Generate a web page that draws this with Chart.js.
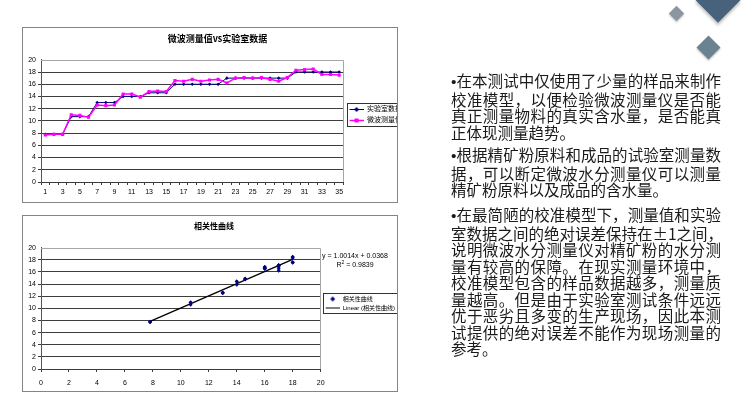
<!DOCTYPE html>
<html lang="zh-CN">
<head>
<meta charset="utf-8">
<script src="https://cdn.jsdelivr.net/npm/chart.js@4.4.1/dist/chart.umd.min.js"></script>
<style>
  html, body { margin: 0; padding: 0; background: #fff; }
  body { width: 750px; height: 400px; position: relative; overflow: hidden; }
  .box { position: absolute; left: 22px; width: 376px; box-sizing: border-box; border: 1px solid #858585; overflow: hidden; background: #fff; }
  .box canvas { position: absolute; left: 0; top: 0; }
  #box1 { top: 27px; height: 176px; }
  #box2 { top: 215px; height: 177px; }
  #eq { position: absolute; left: 318px; top: 252px; width: 74px; text-align: center; font: 7px "Liberation Sans", Arial, sans-serif; line-height: 7px; color: #000; }
  .txt { position: absolute; left: 451px; font-family: "Noto Sans CJK SC", sans-serif; font-size: 15.5px; line-height: 16.5px; color: #1a1a1a; will-change: transform; }
  .txt div { width: 270px; white-space: nowrap; }
  .txt div.j { text-align: justify; text-align-last: justify; }
  .txt .b { font-family: "Liberation Sans", Arial, sans-serif; }
  .dia { position: absolute; transform: rotate(45deg); }
</style>
</head>
<body>

<div class="dia" style="left:702px; top:-16px; width:32px; height:32px; background:#47627a; box-shadow:2px 2px 3px rgba(0,0,0,0.25);"></div>
<div class="dia" style="left:671px; top:8px; width:11px; height:11px; background:#8c96a1; box-shadow:1px 1px 2px rgba(0,0,0,0.2);"></div>
<div class="dia" style="left:700px; top:39px; width:17px; height:17px; background:#6b8293; box-shadow:1px 1px 2px rgba(0,0,0,0.25);"></div>

<div class="box" id="box1"><canvas id="lineChart" width="389" height="174"></canvas></div>
<div class="box" id="box2"><canvas id="scatterChart" width="382" height="175"></canvas></div>
<div id="eq">y = 1.0014x + 0.0368<br>R<sup style="font-size:5px">2</sup> = 0.9839</div>

<div class="txt" style="top:72px;">
  <div class="j"><span class="b">•</span>在本测试中仅使用了少量的样品来制作</div>
  <div class="j">校准模型，以便检验微波测量仪是否能</div>
  <div class="j">真正测量物料的真实含水量，是否能真</div>
  <div>正体现测量趋势。</div>
</div>
<div class="txt" style="top:146px;">
  <div class="j"><span class="b">•</span>根据精矿粉原料和成品的试验室测量数</div>
  <div class="j">据，可以断定微波水分测量仪可以测量</div>
  <div>精矿粉原料以及成品的含水量。</div>
</div>
<div class="txt" style="top:206px;">
  <div class="j"><span class="b">•</span>在最简陋的校准模型下，测量值和实验</div>
  <div class="j">室数据之间的绝对误差保持在±1之间，</div>
  <div class="j">说明微波水分测量仪对精矿粉的水分测</div>
  <div class="j">量有较高的保障。在现实测量环境中，</div>
  <div class="j">校准模型包含的样品数据越多，测量质</div>
  <div class="j">量越高。但是由于实验室测试条件远远</div>
  <div class="j">优于恶劣且多变的生产现场，因此本测</div>
  <div class="j">试提供的绝对误差不能作为现场测量的</div>
  <div>参考。</div>
</div>

<script>
// sample numbers 1..35
var samples = [];
for (var n = 1; n <= 35; n++) samples.push(String(n));

// 实验室数据
var labData = [7.8, 7.8, 7.8, 10.7, 10.7, 10.7, 13, 13, 13, 14, 14, 14, 14.6, 14.6, 14.6,
  16, 16, 16, 16, 16, 16, 17, 17, 17, 17, 17, 17, 17, 17, 18, 18, 18, 18, 18, 18];
// 微波测量值
var microData = [7.7, 7.8, 7.8, 11, 10.9, 10.6, 12.6, 12.5, 12.6, 14.4, 14.4, 13.9, 14.8, 14.9, 14.8,
  16.6, 16.5, 16.8, 16.5, 16.7, 16.8, 16.2, 17, 17.1, 17, 17.1, 16.8, 16.5, 17.1, 18.3, 18.4, 18.5, 17.6, 17.6, 17.5];

var seriesNames = ['实验室数据', '微波测量值'];
var scatterNames = ['相关性曲线', 'Linear (相关性曲线)'];
var fitSlope = 1.0014, fitIntercept = 0.0368;

var tickFont = { family: '"Liberation Sans", Arial, "Noto Sans CJK SC"', size: 7 };

function makeIcon(color, marker, lineW) {
  var c = document.createElement('canvas');
  c.width = 16; c.height = 7;
  var g = c.getContext('2d');
  g.strokeStyle = color; g.fillStyle = color;
  if (lineW) {
    g.lineWidth = lineW;
    g.beginPath(); g.moveTo(2, 3.5); g.lineTo(16, 3.5); g.stroke();
  }
  if (marker == 'rect') g.fillRect(7, 1.5, 4, 4);
  if (marker == 'diamond') {
    g.beginPath(); g.moveTo(9, 1); g.lineTo(11.5, 3.5); g.lineTo(9, 6); g.lineTo(6.5, 3.5); g.closePath(); g.fill();
  }
  return c;
}

// border round legend items
var legendBorder = {
  id: 'legendBorder',
  afterDraw: function(chart) {
    var hb = chart.legend && chart.legend.legendHitBoxes;
    if (!hb || !hb.length) return;
    var l = Math.min.apply(null, hb.map(function(b){ return b.left; }));
    var t = Math.min.apply(null, hb.map(function(b){ return b.top; }));
    var r = Math.max.apply(null, hb.map(function(b){ return b.left + b.width; }));
    var b = Math.max.apply(null, hb.map(function(b){ return b.top + b.height; }));
    var ctx = chart.ctx;
    ctx.save();
    ctx.strokeStyle = '#333'; ctx.lineWidth = 1;
    ctx.strokeRect(Math.round(l) - 0.5, Math.round(t - 3) + 0.5, Math.round(r - l + 30), Math.round(b - t + 5));
    ctx.restore();
  }
};

// grey frame of the plot area
var plotFrame = {
  id: 'plotFrame',
  beforeDatasetsDraw: function(chart) {
    var a = chart.chartArea, ctx = chart.ctx;
    ctx.save();
    ctx.strokeStyle = '#a6a6a6'; ctx.lineWidth = 1;
    ctx.beginPath();
    ctx.moveTo(a.left, Math.round(a.top) + 0.5);
    ctx.lineTo(Math.round(a.right) - 0.5, Math.round(a.top) + 0.5);
    ctx.lineTo(Math.round(a.right) - 0.5, a.bottom);
    ctx.stroke();
    ctx.restore();
  }
};

function yScale() {
  return {
    min: 0, max: 20,
    afterFit: function(s) { s.width = 18; },
    ticks: { stepSize: 2, autoSkip: false, font: tickFont, color: '#000', padding: 2 },
    grid: {
      color: function(c) { return c.tick && c.tick.value === 20 ? 'rgba(0,0,0,0)' : '#3c3c3c'; },
      lineWidth: 1, tickLength: 3
    },
    border: { color: '#555' }
  };
}

function legendOpts(icons, fontSize, pad) {
  return {
    position: 'right',
    labels: {
      usePointStyle: true,
      pointStyleWidth: 16,
      padding: pad,
      color: '#000',
      font: { family: '"Liberation Sans", Arial, "Noto Sans CJK SC"', size: fontSize },
      sort: function(a, b) { return a.datasetIndex - b.datasetIndex; },
      generateLabels: function(chart) {
        var items = Chart.defaults.plugins.legend.labels.generateLabels(chart);
        items.forEach(function(it) { it.pointStyle = icons[it.datasetIndex]; });
        return items;
      }
    }
  };
}

new Chart(document.getElementById('lineChart'), {
  type: 'line',
  data: {
    labels: samples,
    datasets: [
      {
        label: seriesNames[0], data: labData,
        borderColor: '#000080', backgroundColor: '#000080', borderWidth: 1,
        pointStyle: 'rectRot', pointRadius: 1.8, pointBorderWidth: 0, order: 2
      },
      {
        label: seriesNames[1], data: microData,
        borderColor: '#ff00ff', backgroundColor: '#ff00ff', borderWidth: 1.5,
        pointStyle: 'rect', pointRadius: 2.2, pointBorderWidth: 0, order: 1
      }
    ]
  },
  options: {
    responsive: false,
    animation: false,
    layout: { padding: 0 },
    plugins: {
      title: { display: true, text: '微波测量值vs实验室数据', font: { family: '"Noto Sans CJK SC", sans-serif', size: 9, weight: 'bold' }, color: '#000', padding: { top: 5, bottom: 16 } },
      legend: legendOpts([makeIcon('#000080', 'diamond', 1), makeIcon('#ff00ff', 'rect', 1.5)], 7, 4),
      tooltip: { enabled: false }
    },
    scales: {
      x: {
        offset: true,
        afterFit: function(s) { s.height = 20; },
        ticks: {
          autoSkip: false, maxRotation: 0, font: tickFont, color: '#000', padding: 3,
          callback: function(v, i) { return i % 2 === 0 ? samples[i] : ''; }
        },
        grid: { offset: true, drawOnChartArea: false, tickLength: 3, color: '#3c3c3c' },
        border: { color: '#3c3c3c' }
      },
      y: yScale()
    }
  },
  plugins: [plotFrame, legendBorder]
});

var pairs = labData.map(function(x, i) { return { x: x, y: microData[i] }; });
var xLo = Math.min.apply(null, labData), xHi = Math.max.apply(null, labData);
var fitLine = [
  { x: xLo, y: fitSlope * xLo + fitIntercept },
  { x: xHi, y: fitSlope * xHi + fitIntercept }
];

new Chart(document.getElementById('scatterChart'), {
  type: 'scatter',
  data: {
    datasets: [
      {
        label: scatterNames[0], data: pairs,
        backgroundColor: '#000080', borderColor: '#000080',
        pointStyle: 'rectRot', pointRadius: 2, pointBorderWidth: 0
      },
      {
        label: scatterNames[1], data: fitLine, type: 'line', showLine: true,
        borderColor: '#000', backgroundColor: '#000', borderWidth: 1.3, pointRadius: 0
      }
    ]
  },
  options: {
    responsive: false,
    animation: false,
    layout: { padding: 0 },
    plugins: {
      title: { display: true, text: '相关性曲线', font: { family: '"Noto Sans CJK SC", sans-serif', size: 8, weight: 'bold' }, color: '#000', padding: { top: 5, bottom: 17 } },
      legend: legendOpts([makeIcon('#000080', 'diamond', 0), makeIcon('#000', null, 1)], 6, 3),
      tooltip: { enabled: false }
    },
    scales: {
      x: {
        type: 'linear', min: 0, max: 20,
        afterFit: function(s) { s.height = 22; },
        ticks: { stepSize: 2, font: tickFont, color: '#000', padding: 7 },
        grid: { drawOnChartArea: false, tickLength: 3, color: '#3c3c3c' },
        border: { color: '#3c3c3c' }
      },
      y: yScale()
    }
  },
  plugins: [plotFrame, legendBorder]
});
</script>
</body>
</html>
